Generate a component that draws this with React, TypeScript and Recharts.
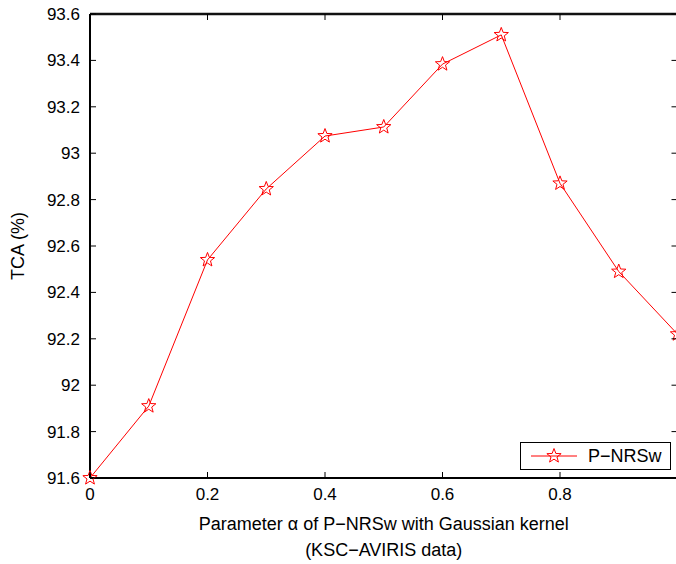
import { Line, LineChart, XAxis, YAxis } from "recharts";

const alphas = [0, 0.1, 0.2, 0.3, 0.4, 0.5, 0.6, 0.7, 0.8, 0.9, 1.0];
const tca = [91.6, 91.91, 92.54, 92.846, 93.074, 93.113, 93.384, 93.51, 92.87, 92.49, 92.22];
const xTicks = [0, 0.2, 0.4, 0.6, 0.8];
const yTicks = [91.6, 91.8, 92, 92.2, 92.4, 92.6, 92.8, 93, 93.2, 93.4, 93.6];

const data = alphas.map((a, i) => ({ alpha: a, tca: tca[i] }));

const FONT = "'Liberation Sans', Arial, Helvetica, sans-serif";
const RED = "#ff0000";
// tickSize + tickMargin: distance recharts puts between axis line and tick coords
const OFF = 10;

const starPoints = (cx: number, cy: number, r: number) => {
  const pts: string[] = [];
  for (let k = 0; k < 10; k++) {
    const rad = k % 2 === 0 ? r : r * 0.42;
    const ang = -Math.PI / 2 + (k * Math.PI) / 5;
    pts.push(`${cx + rad * Math.cos(ang)},${cy + rad * Math.sin(ang)}`);
  }
  return pts.join(" ");
};

const StarDot = ({ cx, cy, index }: any) => (
  <polygon key={index} points={starPoints(cx, cy, 7.5)} fill="none" stroke={RED} strokeWidth={1} />
);

const fmt = (v: number) => String(Number(v.toFixed(1)));

const BottomTick = ({ x, y, payload }: any) => (
  <g>
    <line x1={x} y1={y - OFF} x2={x} y2={y - OFF - 6} stroke="#000" strokeWidth={1} />
    <text x={x} y={y - OFF + 22} textAnchor="middle" fontSize={17} fontFamily={FONT} fill="#000">
      {fmt(payload.value)}
    </text>
  </g>
);

const TopTick = ({ x, y }: any) => <line x1={x} y1={y + OFF} x2={x} y2={y + OFF + 6} stroke="#000" strokeWidth={1} />;

const LeftTick = ({ x, y, payload }: any) => (
  <g>
    <line x1={x + OFF} y1={y} x2={x + OFF + 6} y2={y} stroke="#000" strokeWidth={1} />
    <text x={x} y={y + 6} textAnchor="end" fontSize={17} fontFamily={FONT} fill="#000">
      {fmt(payload.value)}
    </text>
  </g>
);

const RightTick = ({ x, y }: any) => <line x1={x - OFF} y1={y} x2={x - OFF - 6} y2={y} stroke="#000" strokeWidth={1} />;

const LegendBox = () => (
  <div
    style={{
      position: "absolute",
      left: 520,
      top: 442,
      width: 149,
      height: 26,
      border: "1px solid #000",
      background: "#fff",
      display: "flex",
      alignItems: "center",
      fontFamily: FONT,
      fontSize: 18,
    }}
  >
    <svg width={66} height={26}>
      <line x1={10} y1={13} x2={56} y2={13} stroke={RED} strokeWidth={1} />
      <polygon points={starPoints(33, 13, 7.5)} fill="none" stroke={RED} strokeWidth={1} />
    </svg>
    <span style={{ marginLeft: 1 }}>P−NRSw</span>
  </div>
);

export default function App() {
  return (
    <div style={{ position: "fixed", left: 0, top: 0, width: 676, height: 564, overflow: "hidden", background: "#fff" }}>
      <LineChart width={690} height={564} data={data} margin={{ top: 4, right: 11.5, left: 10, bottom: 56 }}>
        <XAxis
          dataKey="alpha"
          type="number"
          domain={[0, 1]}
          ticks={xTicks}
          axisLine={{ stroke: "#000", strokeWidth: 2 }}
          tickLine={false}
          tickSize={6}
          tickMargin={4}
          height={30}
          tick={<BottomTick />}
          label={({ viewBox }: any) => (
            <text textAnchor="middle" fontSize={18} fontFamily={FONT} fill="#000">
              <tspan x={viewBox.x + viewBox.width / 2} y={viewBox.y + 52}>Parameter α of P−NRSw with Gaussian kernel</tspan>
              <tspan x={viewBox.x + viewBox.width / 2} y={viewBox.y + 78}>(KSC−AVIRIS data)</tspan>
            </text>
          )}
        />
        <XAxis
          xAxisId="top"
          orientation="top"
          dataKey="alpha"
          type="number"
          domain={[0, 1]}
          ticks={xTicks}
          axisLine={{ stroke: "#111", strokeWidth: 2.5 }}
          tickLine={false}
          tickSize={6}
          tickMargin={4}
          height={10}
          tick={<TopTick />}
        />
        <YAxis
          type="number"
          domain={[91.6, 93.6]}
          ticks={yTicks}
          axisLine={{ stroke: "#000", strokeWidth: 2 }}
          tickLine={false}
          tickSize={6}
          tickMargin={4}
          width={80}
          tick={<LeftTick />}
          label={({ viewBox }: any) => (
            <text
              x={viewBox.x + 8}
              y={viewBox.y + viewBox.height / 2}
              transform={`rotate(-90, ${viewBox.x + 8}, ${viewBox.y + viewBox.height / 2})`}
              textAnchor="middle"
              dominantBaseline="central"
              fontSize={18}
              fontFamily={FONT}
              fill="#000"
            >
              TCA (%)
            </text>
          )}
        />
        <YAxis
          yAxisId="right"
          orientation="right"
          type="number"
          domain={[91.6, 93.6]}
          ticks={yTicks}
          axisLine={{ stroke: "#000", strokeWidth: 2 }}
          tickLine={false}
          tickSize={6}
          tickMargin={4}
          width={1}
          tick={<RightTick />}
        />
        <Line
          xAxisId="top"
          yAxisId="right"
          dataKey="tca"
          stroke="none"
          dot={false}
          activeDot={false}
          legendType="none"
          isAnimationActive={false}
        />
        <Line
          type="linear"
          dataKey="tca"
          stroke={RED}
          strokeWidth={1}
          dot={<StarDot />}
          activeDot={false}
          isAnimationActive={false}
        />
      </LineChart>
      <LegendBox />
    </div>
  );
}
